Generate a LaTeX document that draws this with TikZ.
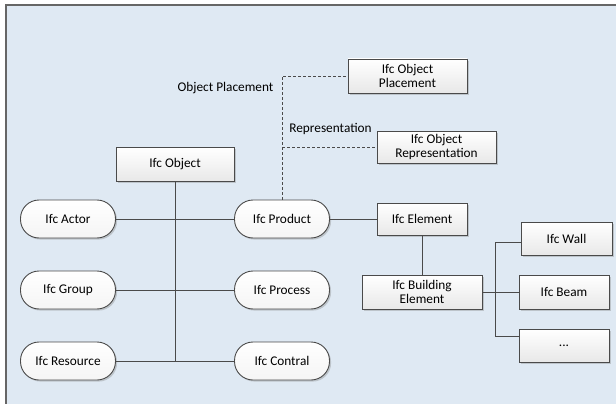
\documentclass[tikz,border=0pt]{standalone}
\usepackage{fontspec}
\setmainfont{Carlito}
\usetikzlibrary{shadows}
\definecolor{canvasbg}{HTML}{DFE9F3}
\definecolor{framegray}{HTML}{666666}
\definecolor{linegray}{HTML}{4A4A4A}
\begin{document}
\begin{tikzpicture}[x=1pt,y=-1pt,
  font=\fontsize{13.3}{15.5}\selectfont,
  boxshadow/.style={drop shadow={shadow xshift=1.6pt,shadow yshift=-1.6pt,opacity=0.35,fill=gray}},
  classbox/.style={draw=linegray,line width=0.9pt,top color=white,bottom color=black!9,
    boxshadow,minimum width=#1,inner sep=2pt,align=center},
  pill/.style={draw=linegray,line width=0.9pt,top color=white,bottom color=black!4,
    boxshadow,rounded corners=18.5pt,minimum width=95pt,minimum height=38pt,inner sep=2pt},
  link/.style={draw=linegray,line width=1pt},
  reflink/.style={draw=linegray,line width=0.9pt,dash pattern=on 3pt off 2pt},
  lbl/.style={inner sep=0pt}]
\useasboundingbox (0,0) rectangle (616,404);
% canvas and its frame
\fill[canvasbg] (6,5) rectangle (616,404);
\draw[framegray,line width=1.6pt] (6,404) -- (6,5) -- (616,5);

% object hierarchy
\node[classbox=118pt,minimum height=34pt] (obj) at (175,164.5) {Ifc Object};
\node[pill] (actor) at (68,219) {Ifc Actor};
\node[pill] (group) at (68,290) {Ifc Group};
\node[pill] (resource) at (68,361) {Ifc Resource};
\node[pill] (product) at (282,219) {Ifc Product};
\node[pill] (process) at (282,290) {Ifc Process};
\node[pill] (contral) at (282,361) {Ifc Contral};

% product branch
\node[classbox=90pt,minimum height=32pt] (elem) at (422,219) {Ifc Element};
\node[classbox=120pt,minimum height=34pt] (bldg) at (422,292) {Ifc Building\\[-1pt]Element};
\node[classbox=91pt,minimum height=33pt] (wall) at (566.5,238.5) {Ifc Wall};
\node[classbox=90pt,minimum height=34pt] (beam) at (564,292) {Ifc Beam};
\node[classbox=90pt,minimum height=33pt] (dots) at (564,345.5) {...};

% placement and representation
\node[classbox=119pt,minimum height=34pt] (place) at (407.5,76) {Ifc Object\\[-1pt]Placement};
\node[classbox=119pt,minimum height=32pt] (repr) at (436.5,147) {Ifc Object\\[-1pt]Representation};
\node[lbl] (placelbl) at (225.5,88) {Object Placement};
\node[lbl] (reprlbl) at (330.5,129) {Representation};

% trunk below Ifc Object
\coordinate (trunkend) at (obj.south |- resource.east);
\draw[link] (obj.south) -- (trunkend);
\draw[link] (actor.east) -- (product.west);
\draw[link] (group.east) -- (process.west);
\draw[link] (resource.east) -- (contral.west);

% element chain
\draw[link] (product.east) -- (elem.west);
\draw[link] (elem.south) -- (bldg.north);
\draw[link] (bldg.east) -- (beam.west);
\coordinate (bustop) at (495,242);
\coordinate (busbot) at (495,336);
\draw[link] (bustop) -- (busbot);
\draw[link] (bustop) -- (bustop -| wall.west);
\draw[link] (busbot) -- (busbot -| dots.west);

% dashed references
\draw[reflink] (product.north) |- (place.west);
\draw[reflink] (product.north |- repr.west) -- (repr.west);
\end{tikzpicture}
\end{document}
